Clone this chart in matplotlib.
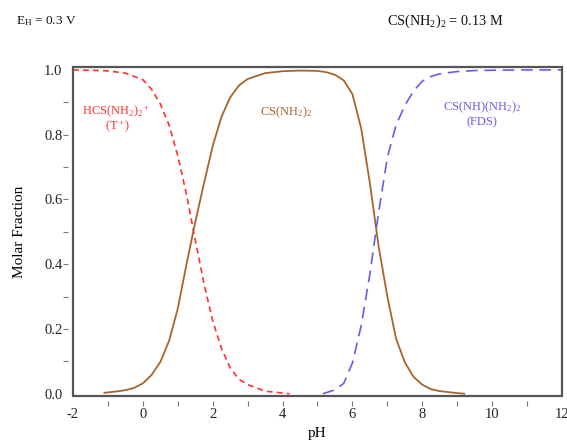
import matplotlib
matplotlib.use("Agg")
import matplotlib.pyplot as plt
from matplotlib.patches import Rectangle

plt.rcParams['font.family'] = ['Liberation Serif', 'DejaVu Serif']
plt.rcParams['mathtext.fontset'] = 'custom'
plt.rcParams['mathtext.rm'] = 'Liberation Serif'
plt.rcParams['mathtext.it'] = 'Liberation Serif:italic'

# ---- data ----
ph_t = [-2.0, -1.5, -1.0, -0.5, 0.0, 0.25, 0.5, 0.75, 1.0, 1.25, 1.5, 1.75,
        2.0, 2.25, 2.5, 2.75, 3.0, 3.5, 4.0, 4.2]
frac_t = [1.000, 0.999, 0.997, 0.990, 0.970, 0.940, 0.895, 0.830, 0.735, 0.615,
          0.475, 0.340, 0.225, 0.140, 0.080, 0.045, 0.028, 0.008, 0.002, 0.000]

ph_tu = [-1.1, -0.75, -0.5, -0.25, 0.0, 0.25, 0.5, 0.75, 1.0, 1.25, 1.5, 1.75,
         2.0, 2.25, 2.5, 2.75, 3.0, 3.5, 4.0, 4.5, 5.0, 5.25, 5.5, 5.75, 6.0,
         6.25, 6.5, 6.75, 7.0, 7.25, 7.5, 7.75, 8.0, 8.25, 8.5, 9.0, 9.2]
frac_tu = [0.003, 0.007, 0.011, 0.018, 0.032, 0.058, 0.098, 0.163, 0.263, 0.400,
           0.530, 0.650, 0.765, 0.855, 0.915, 0.952, 0.972, 0.990, 0.996, 0.998,
           0.997, 0.993, 0.985, 0.968, 0.925, 0.820, 0.650, 0.455, 0.300, 0.170,
           0.097, 0.052, 0.028, 0.014, 0.008, 0.002, 0.000]

ph_fds = [5.15, 5.5, 5.75, 6.0, 6.25, 6.5, 6.75, 7.0, 7.25, 7.5, 7.75, 8.0,
          8.25, 8.5, 9.0, 9.5, 10.0, 11.0, 12.0]
frac_fds = [0.000, 0.012, 0.032, 0.095, 0.210, 0.370, 0.560, 0.730, 0.830, 0.890,
            0.935, 0.965, 0.980, 0.988, 0.995, 0.998, 0.999, 1.000, 1.000]

x_label_ticks = [-2, 0, 2, 4, 6, 8, 10, 12]
x_mark_ticks = list(range(-1, 12))
y_label_ticks = [0.0, 0.2, 0.4, 0.6, 0.8, 1.0]
y_mark_ticks = [0.1, 0.2, 0.3, 0.4, 0.5, 0.6, 0.7, 0.8, 0.9]

RED = '#FF3030'
BROWN = '#A5652F'
BLUE = '#6A5CE8'
FRAME = '#555555'

fig = plt.figure(figsize=(5.67, 4.43), dpi=100)
ax = fig.add_axes([73/567, 1-396/443, (562-73)/567, (396-67)/443])

ax.plot(ph_t, frac_t, color=RED, lw=1.2, ls=(0, (3.5, 2.5)))
ax.plot(ph_tu, frac_tu, color=BROWN, lw=1.3, ls='-')
ax.plot(ph_fds, frac_fds, color=BLUE, lw=1.2, ls=(0, (7, 4)))

ax.set_xlim(-2, 12)
ax.set_ylim(-0.007, 1.009)

for s in ax.spines.values():
    s.set_visible(False)
ax.spines['bottom'].set_position(('outward', 3.5))
ax.spines['left'].set_position(('outward', 3.5))
ax.add_patch(Rectangle((0, 0), 1, 1, transform=ax.transAxes, fill=False,
                       ec=FRAME, lw=1.6, clip_on=False, zorder=5))

ax.xaxis.remove_overlapping_locs = False
ax.yaxis.remove_overlapping_locs = False
ax.set_xticks(x_label_ticks)
ax.set_xticklabels([str(v) for v in x_label_ticks])
ax.set_xticks(x_mark_ticks, minor=True)
ax.set_yticks(y_label_ticks)
ax.set_yticklabels([f'{v:.1f}' for v in y_label_ticks])
ax.set_yticks(y_mark_ticks, minor=True)
ax.tick_params(axis='both', which='major', length=0, labelsize=10.5, colors='#222222')
ax.tick_params(axis='x', which='major', pad=5.5)
ax.tick_params(axis='y', which='major', pad=4)
ax.tick_params(axis='both', which='minor', length=3.5, width=0.8, color='#777777',
               direction='out')

ax.set_xlabel('pH', fontsize=11, labelpad=4)
ax.set_ylabel('Molar Fraction', fontsize=11, labelpad=13)

ax.text(116/567, 1-112/443, r'HCS(NH$_2$)$_2$$^+$', transform=fig.transFigure,
        color=RED, fontsize=9, ha='center', va='center')
ax.text(118/567, 1-127/443, r'(T$^+$)', transform=fig.transFigure,
        color=RED, fontsize=9, ha='center', va='center')
ax.text(286/567, 1-112/443, r'CS(NH$_2$)$_2$', transform=fig.transFigure,
        color=BROWN, fontsize=9, ha='center', va='center')
ax.text(482/567, 1-107/443, r'CS(NH)(NH$_2$)$_2$', transform=fig.transFigure,
        color=BLUE, fontsize=9, ha='center', va='center')
ax.text(482/567, 1-122/443, '(FDS)', transform=fig.transFigure,
        color=BLUE, fontsize=9, ha='center', va='center')

fig.text(16/567, 1-21/443, r'E$_\mathrm{H}$ = 0.3 V', fontsize=9.5,
         ha='left', va='center', color='#111111')
fig.text(387/567, 1-21/443, r'CS(NH$_2$)$_2$ = 0.13 M', fontsize=10.3,
         ha='left', va='center', color='#111111')

fig.savefig('out.png', dpi=100)
